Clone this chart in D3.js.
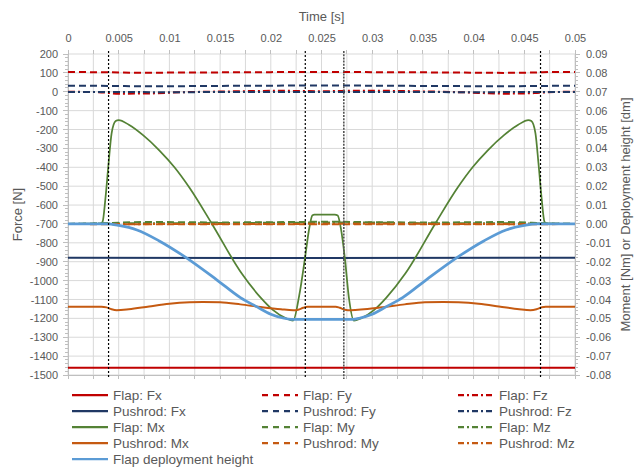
<!DOCTYPE html>
<html><head><meta charset="utf-8">
<script src="https://cdn.jsdelivr.net/npm/d3@7"></script>
<style>
body{margin:0;background:#fff}
svg{display:block}
text{font-family:"Liberation Sans",Arial,sans-serif;fill:#595959}
</style>
</head><body>
<svg id="c" width="643" height="467"></svg>
<script>
// ---------- tick labels ----------
const xTicks = [0,0.005,0.01,0.015,0.02,0.025,0.03,0.035,0.04,0.045,0.05];
const xTickLabels = ["0","0.005","0.01","0.015","0.02","0.025","0.03","0.035","0.04","0.045","0.05"];
const yLeftTicks = [200,100,0,-100,-200,-300,-400,-500,-600,-700,-800,-900,-1000,-1100,-1200,-1300,-1400,-1500];
const yRightTicks = [0.09,0.08,0.07,0.06,0.05,0.04,0.03,0.02,0.01,0,-0.01,-0.02,-0.03,-0.04,-0.05,-0.06,-0.07,-0.08];
const yRightLabels = ["0.09","0.08","0.07","0.06","0.05","0.04","0.03","0.02","0.01","0.00","-0.01","-0.02","-0.03","-0.04","-0.05","-0.06","-0.07","-0.08"];
const markerTimes = [0.0040,0.0234,0.0272,0.0466];

// ---------- forces [N] (time s, value) ----------
const flapFx = [[0,-1462],[0.01,-1462],[0.025,-1461],[0.04,-1462],[0.05,-1462]];
const flapFy = [[0,105],[0.004,103],[0.007,101],[0.012,102],[0.02,104],[0.025,105],[0.03,104],[0.038,102],[0.043,100],[0.046,102],[0.048,105],[0.05,105]];
const flapFz = [[0,0],[0.003,-2],[0.005,-10],[0.008,-9],[0.011,-3],[0.016,2],[0.021,5],[0.025,3],[0.029,6],[0.034,3],[0.039,-3],[0.043,-10],[0.046,-7],[0.048,-1],[0.05,0]];
const pushrodFx = [[0,-879],[0.025,-880],[0.05,-879]];
const pushrodFy = [[0,32],[0.004,31],[0.008,29],[0.015,31],[0.025,33],[0.035,31],[0.043,29],[0.047,31],[0.05,32]];
const pushrodFz = [[0,-1],[0.01,-2],[0.025,-1],[0.04,-2],[0.05,-1]];

// ---------- moments [Nm] / height [dm] ----------
const flapMx = [[0,0],[0.0031,0],[0.0034,0.001],[0.0037,0.014],[0.0040,0.032],[0.0043,0.048],[0.0047,0.0545],[0.0050,0.055],
  [0.0060,0.0525],[0.0074,0.047],[0.0090,0.039],[0.0105,0.030],[0.0120,0.019],[0.0142,0.000],[0.0171,-0.026],[0.0190,-0.039],
  [0.0202,-0.0455],[0.0215,-0.050],[0.0222,-0.0512],[0.0228,-0.038],[0.0234,-0.017],[0.0238,-0.002],[0.0241,0.0045],[0.0243,0.005],
  [0.0263,0.005],[0.0266,0.0045],[0.0269,-0.002],[0.0273,-0.018],[0.0277,-0.039],[0.0282,-0.0512],[0.0289,-0.050],[0.0302,-0.0455],
  [0.0314,-0.039],[0.0333,-0.026],[0.0362,0.000],[0.0384,0.019],[0.0399,0.030],[0.0414,0.039],[0.0430,0.047],[0.0444,0.0525],
  [0.0454,0.055],[0.0457,0.0545],[0.0461,0.048],[0.0464,0.032],[0.0467,0.014],[0.0470,0.001],[0.0473,0],[0.05,0]];
const flapMy = [[0,0],[0.004,0.0005],[0.008,0.0010],[0.015,0.0008],[0.022,0.0010],[0.026,0.0012],[0.03,0.0009],[0.037,0.0008],[0.043,0.0010],[0.047,0.0004],[0.05,0]];
const flapMz = [[0,0],[0.005,0.0003],[0.012,0.0004],[0.02,0.0006],[0.028,0.0008],[0.035,0.0004],[0.045,0.0003],[0.05,0]];
const pushrodMx = [[0,-0.0438],[0.0033,-0.0438],[0.0038,-0.0442],[0.0043,-0.0452],[0.0048,-0.0457],[0.0060,-0.0452],[0.0080,-0.0437],
  [0.0100,-0.0423],[0.0120,-0.0415],[0.0133,-0.0413],[0.0150,-0.0415],[0.0170,-0.0426],[0.0190,-0.0440],[0.0210,-0.0452],
  [0.0222,-0.0457],[0.0227,-0.0454],[0.0232,-0.0444],[0.0236,-0.0438],[0.0264,-0.0438],[0.0268,-0.0444],[0.0273,-0.0454],
  [0.0279,-0.0457],[0.0292,-0.0452],[0.0312,-0.0440],[0.0332,-0.0426],[0.0352,-0.0415],[0.0370,-0.0413],[0.0385,-0.0415],
  [0.0405,-0.0423],[0.0425,-0.0437],[0.0445,-0.0452],[0.0456,-0.0457],[0.0462,-0.0452],[0.0467,-0.0442],[0.0471,-0.0438],[0.05,-0.0438]];
const pushrodMy = [[0,0],[0.006,-0.0002],[0.015,-0.0001],[0.025,-0.0002],[0.035,-0.0001],[0.044,-0.0002],[0.05,0]];
const pushrodMz = [[0,0],[0.006,-0.0001],[0.02,0],[0.03,0.0001],[0.044,-0.0001],[0.05,0]];
const deployHeight = [[0,0],[0.0038,0],[0.0050,-0.0008],[0.0068,-0.0032],[0.0090,-0.0090],[0.0115,-0.0173],[0.0147,-0.0297],
  [0.0170,-0.0390],[0.0186,-0.0438],[0.0200,-0.0478],[0.0212,-0.0498],[0.0220,-0.0505],[0.0281,-0.0505],[0.0288,-0.0498],
  [0.0300,-0.0478],[0.0314,-0.0438],[0.0330,-0.0390],[0.0353,-0.0297],[0.0385,-0.0173],[0.0410,-0.0090],[0.0432,-0.0032],
  [0.0450,-0.0008],[0.0462,0],[0.05,0]];

const seriesNames = ["Flap: Fx","Flap: Fy","Flap: Fz","Pushrod: Fx","Pushrod: Fy","Pushrod: Fz","Flap: Mx","Flap: My","Flap: Mz","Pushrod: Mx","Pushrod: My","Pushrod: Mz","Flap deployment height"];
const seriesData = [flapFx,flapFy,flapFz,pushrodFx,pushrodFy,pushrodFz,flapMx,flapMy,flapMz,pushrodMx,pushrodMy,pushrodMz,deployHeight];
const seriesAxis = ["L","L","L","L","L","L","R","R","R","R","R","R","R"];

// ---------- styles ----------
const RED="#c00000", NAVY="#203864", GREEN="#548235", ORANGE="#c55a11", BLUE="#5b9bd5";
const DASH="7,4", DASHDOT="7,3,2,3";
const styles = [
  {c:RED,d:null,w:2},{c:RED,d:DASH,w:2},{c:RED,d:DASHDOT,w:2},
  {c:NAVY,d:null,w:2},{c:NAVY,d:DASH,w:2},{c:NAVY,d:DASHDOT,w:2},
  {c:GREEN,d:null,w:1.75},{c:GREEN,d:DASH,w:2},{c:GREEN,d:DASHDOT,w:2},
  {c:ORANGE,d:null,w:2},{c:ORANGE,d:DASH,w:2},{c:ORANGE,d:DASHDOT,w:2},
  {c:BLUE,d:null,w:2.75}
];

const svg = d3.select("#c");
const L=68, R=575, T=54, B=375;
const x = d3.scaleLinear([0,0.05],[L,R]);
const yL = d3.scaleLinear([-1500,200],[B,T]);
const yR = d3.scaleLinear([-0.08,0.09],[B,T]);

// gridlines
const g = svg.append("g");
g.selectAll(".hg").data(yLeftTicks).join("line")
  .attr("x1",L).attr("x2",R).attr("y1",d=>yL(d)).attr("y2",d=>yL(d))
  .attr("stroke","#d9d9d9").attr("stroke-width",1);
const vgrid = d3.range(0,21).map(i=>i*0.0025);
g.selectAll(".vg").data(vgrid).join("line")
  .attr("x1",d=>x(d)).attr("x2",d=>x(d)).attr("y1",T).attr("y2",B)
  .attr("stroke","#d9d9d9").attr("stroke-width",1);

// axes lines & ticks
const ax = svg.append("g").attr("stroke","#bfbfbf").attr("stroke-width",1).attr("shape-rendering","crispEdges");
ax.append("line").attr("x1",L).attr("x2",L).attr("y1",T).attr("y2",B);
ax.append("line").attr("x1",R).attr("x2",R).attr("y1",T).attr("y2",B);
ax.append("line").attr("x1",L).attr("x2",R).attr("y1",B).attr("y2",B);
const minorL = d3.range(-1500,201,20);
ax.selectAll(".ml").data(minorL).join("line")
  .attr("x1",d=>d%100===0?L-5:L-3).attr("x2",L).attr("y1",d=>yL(d)).attr("y2",d=>yL(d));
const minorR = d3.range(-80,91,2).map(v=>v/1000);
ax.selectAll(".mr").data(minorR).join("line")
  .attr("x1",R).attr("x2",(d,i)=>i%5===0?R+5:R+3).attr("y1",d=>yR(d)).attr("y2",d=>yR(d));
ax.selectAll(".mb").data(vgrid).join("line")
  .attr("x1",d=>x(d)).attr("x2",d=>x(d)).attr("y1",B).attr("y2",B+4);
ax.selectAll(".mt").data(vgrid).join("line")
  .attr("x1",d=>x(d)).attr("x2",d=>x(d)).attr("y1",T-4).attr("y2",T);

// top axis labels
svg.append("g").attr("transform",`translate(0,${T})`)
  .call(d3.axisTop(x).tickValues(xTicks).tickFormat((d,i)=>xTickLabels[i]).tickSize(0).tickPadding(12))
  .call(s=>{s.select(".domain").remove(); s.selectAll("text").style("font-size","11px").attr("fill","#595959");});
// left axis labels
svg.append("g").attr("transform",`translate(${L},0)`)
  .call(d3.axisLeft(yL).tickValues(yLeftTicks).tickFormat(d=>String(d)).tickSize(0).tickPadding(10))
  .call(s=>{s.select(".domain").remove(); s.selectAll("text").style("font-size","11px").attr("fill","#595959");});
// right axis labels
svg.append("g").attr("transform",`translate(${R},0)`)
  .call(d3.axisRight(yR).tickValues(yRightTicks).tickFormat((d,i)=>yRightLabels[i]).tickSize(0).tickPadding(11))
  .call(s=>{s.select(".domain").remove(); s.selectAll("text").style("font-size","11px").attr("fill","#595959");});

// titles
svg.append("text").attr("x",(L+R)/2).attr("y",21).attr("text-anchor","middle").style("font-size","13px").text("Time [s]");
svg.append("text").attr("transform",`translate(22,${(T+B)/2}) rotate(-90)`).attr("text-anchor","middle").style("font-size","13px").text("Force [N]");
svg.append("text").attr("transform",`translate(630,${(T+B)/2}) rotate(-90)`).attr("text-anchor","middle").style("font-size","13px").text("Moment [Nm] or Deployment height [dm]");

// series
const lineL = d3.line().x(d=>x(d[0])).y(d=>yL(d[1])).curve(d3.curveMonotoneX);
const lineR = d3.line().x(d=>x(d[0])).y(d=>yR(d[1])).curve(d3.curveMonotoneX);
const sg = svg.append("g").attr("fill","none").attr("stroke-linejoin","round");
seriesData.forEach((data,i)=>{
  const st = styles[i];
  sg.append("path").attr("d",(seriesAxis[i]==="L"?lineL:lineR)(data))
    .attr("stroke",st.c).attr("stroke-width",st.w).attr("stroke-dasharray",st.d);
});

// vertical marker lines
svg.append("g").selectAll("line").data(markerTimes).join("line")
  .attr("x1",d=>x(d)).attr("x2",d=>x(d)).attr("y1",T-3).attr("y2",B+4)
  .attr("stroke",(d,i)=>i===2?"#555":"#000").attr("stroke-width",(d,i)=>i===2?1.6:1.2)
  .attr("stroke-dasharray",(d,i)=>i===2?"2,1.2":"2,2");

// legend
const colX=[72,262,458], rowY0=395, rowH=16;
const lg = svg.append("g");
seriesNames.forEach((n,i)=>{
  const col=i%3, row=Math.floor(i/3);
  const lx=colX[col], ly=rowY0+row*rowH;
  const st=styles[i];
  lg.append("line").attr("x1",lx).attr("x2",lx+36).attr("y1",ly).attr("y2",ly)
    .attr("stroke",st.c).attr("stroke-width",2.25).attr("stroke-dasharray",st.d?(st.d===DASH?"6,5":"6,3,2,3"):null);
  lg.append("text").attr("x",lx+41).attr("y",ly).attr("dy","0.35em").style("font-size","13.5px").text(n);
});
</script>
</body></html>
